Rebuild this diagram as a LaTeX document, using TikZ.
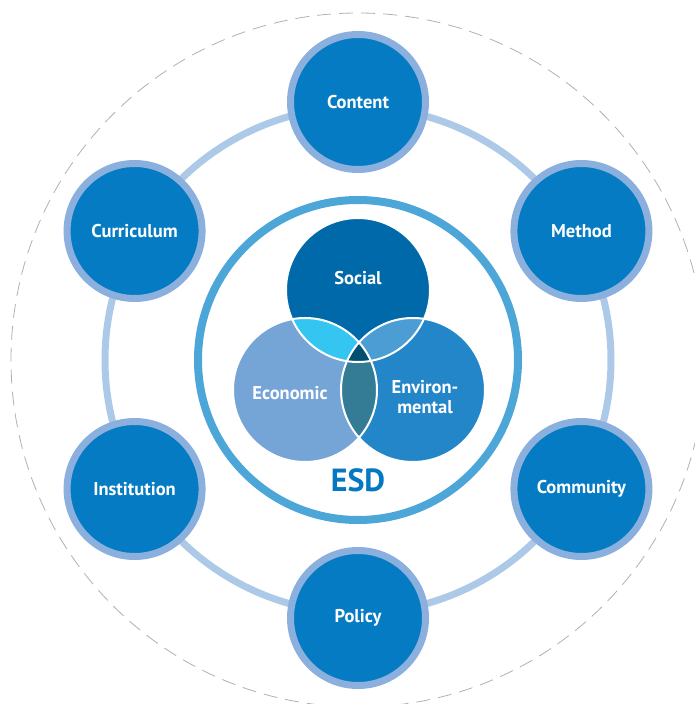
\documentclass[tikz,border=0pt]{standalone}
\usepackage{fontspec}
\setmainfont{PT Sans}
\usetikzlibrary{positioning}

\definecolor{topicblue}{HTML}{047BC2}
\definecolor{topicrim}{HTML}{8BB0DE}
\definecolor{ringblue}{HTML}{ADC9E8}
\definecolor{esdblue}{HTML}{4DA6D8}
\definecolor{esdtext}{HTML}{0479C1}
\definecolor{socialblue}{HTML}{0069A9}
\definecolor{economicblue}{HTML}{75A4D6}
\definecolor{environblue}{HTML}{2386C9}
\definecolor{soceco}{HTML}{35C5F1}
\definecolor{socenv}{HTML}{4D9DD5}
\definecolor{ecoenv}{HTML}{347C96}
\definecolor{allthree}{HTML}{004F70}
\definecolor{dashgray}{HTML}{B0B0B0}

\newcommand{\topicfont}{\fontsize{18.5}{20}\selectfont\bfseries}

\begin{document}
\begin{tikzpicture}
  [topic/.style={circle,minimum size=135pt,inner sep=0pt,line width=7pt,
                 draw=topicrim,fill=topicblue,text=white,font=\topicfont},
   venn/.style={circle,minimum size=144pt,inner sep=0pt},
   vennlabel/.style={text=white,font=\topicfont,align=center},
   vennrim/.style={draw=white,line width=2pt},
   ring/.style={draw=ringblue,line width=7pt},
   esdring/.style={draw=esdblue,fill=white,line width=8pt},
   outer/.style={draw=dashgray,line width=0.8pt,dash pattern=on 14pt off 8pt}]

  \useasboundingbox (-358pt,-344pt) rectangle (336pt,360pt);

  % Ringe
  \coordinate (hub) at (0,0);
  \draw [outer] (hub) circle (347pt);
  \draw [ring] (hub) circle (253pt);
  \draw [esdring] (hub) circle (160pt);

  % Themen
  \node (content) at (90:258pt) [topic] {Content};
  \node (method) at (30:258pt) [topic] {Method};
  \node (community) at (-30:258pt) [topic] {Community};
  \node (policy) at (-90:258pt) [topic] {Policy};
  \node (institution) at (-150:258pt) [topic] {Institution};
  \node (curriculum) at (150:258pt) [topic] {Curriculum};

  % Venn
  \node (social) at (0pt,70pt) [venn, fill=socialblue] {};
  \node (economic) at (-53pt,-30pt) [venn, fill=economicblue] {};
  \node (environmental) at (55pt,-30pt) [venn, fill=environblue] {};

  \begin{scope}
    \clip (social.center) circle (72pt);
    \fill [soceco] (economic.center) circle (72pt);
    \fill [socenv] (environmental.center) circle (72pt);
  \end{scope}
  \begin{scope}
    \clip (economic.center) circle (72pt);
    \fill [ecoenv] (environmental.center) circle (72pt);
    \clip (social.center) circle (72pt);
    \fill [allthree] (environmental.center) circle (72pt);
  \end{scope}
  \draw [vennrim] (social.center) circle (72pt);
  \draw [vennrim] (economic.center) circle (72pt);
  \draw [vennrim] (environmental.center) circle (72pt);

  \node (socialtxt) at ([yshift=12pt]social.center) [vennlabel] {Social};
  \node (economictxt) at ([xshift=-15pt,yshift=-3pt]economic.center)
      [vennlabel] {Economic};
  \node (environtxt) at ([xshift=12pt,yshift=-7pt]environmental.center)
      [vennlabel] {Environ-\\mental};

  \node (esd) at (0pt,-120pt) [text=esdtext,font=\fontsize{32}{34}\selectfont\bfseries] {ESD};

\end{tikzpicture}
\end{document}
